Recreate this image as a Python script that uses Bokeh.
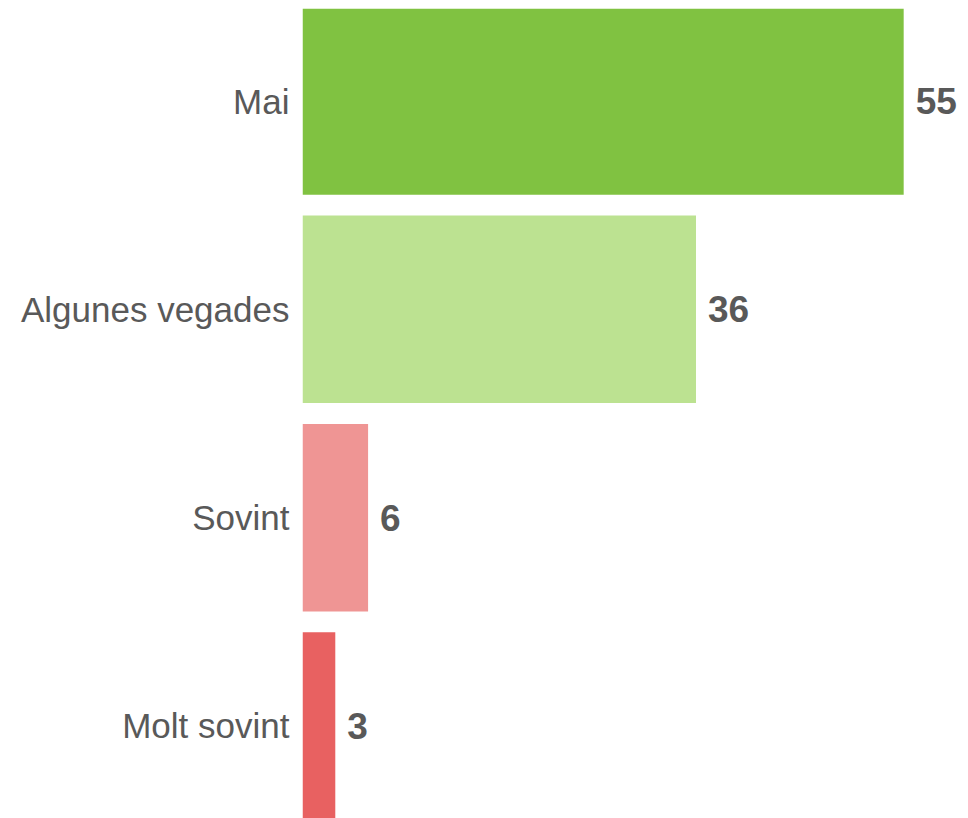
from bokeh.plotting import figure
from bokeh.models import ColumnDataSource, Range1d, FactorRange
from bokeh.core.properties import value
from bokeh.embed import file_html
from bokeh.resources import INLINE

categories = ["Mai", "Algunes vegades", "Sovint", "Molt sovint"]
values = [55, 36, 6, 3]
colors = ["#80C241", "#BCE291", "#EF9594", "#E86161"]
value_labels = [str(v) for v in values]

src = ColumnDataSource(dict(cat=categories, val=values, color=colors, lab=value_labels))

y_range = FactorRange(factors=list(reversed(categories)), range_padding=-0.0557,
                      range_padding_units="absolute")

p = figure(width=968, height=818, y_range=y_range, x_range=Range1d(0, 60.93),
           output_backend="svg", toolbar_location=None,
           min_border_left=302, min_border_right=0, min_border_top=8, min_border_bottom=0)

p.hbar(y="cat", left=0, right="val", height=0.9, fill_color="color", line_color=None, source=src)

p.text(x="val", y="cat", text="lab", source=src, x_offset=12,
       text_baseline="middle", text_align="left",
       text_font=value("Liberation Sans"), text_font_style="bold",
       text_font_size="37px", text_color="#595959")

p.xaxis.visible = False
p.xgrid.visible = False
p.ygrid.visible = False
p.outline_line_color = None
p.yaxis.axis_line_color = None
p.yaxis.major_tick_line_color = None
p.yaxis.minor_tick_line_color = None
p.yaxis.major_tick_out = 0
p.yaxis.major_tick_in = 0
p.yaxis.major_label_standoff = 13
p.yaxis.major_label_text_font = "Liberation Sans"
p.yaxis.major_label_text_font_size = "35px"
p.yaxis.major_label_text_color = "#595959"
p.yaxis.major_label_text_font_style = "normal"

open("out.html", "w").write(file_html(p, INLINE))
